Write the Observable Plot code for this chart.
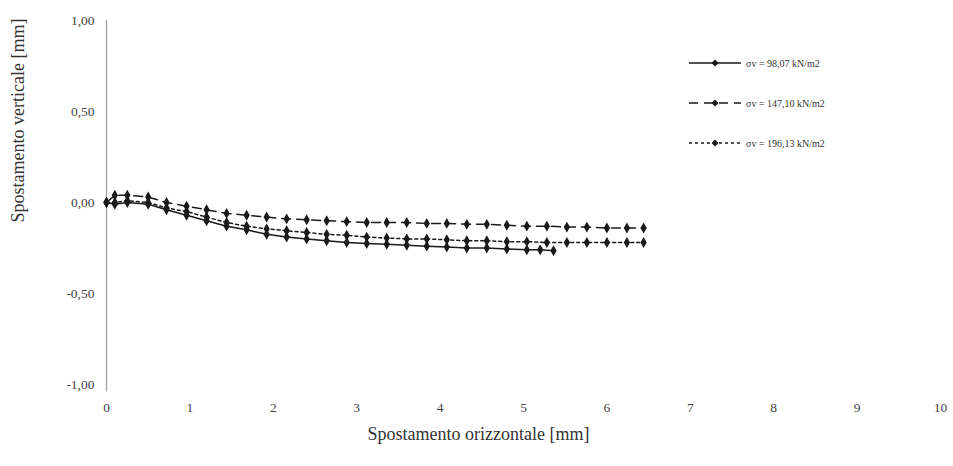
<!DOCTYPE html>
<html><head><meta charset="utf-8">
<script src="https://cdn.jsdelivr.net/npm/d3@7"></script>
<script src="https://cdn.jsdelivr.net/npm/@observablehq/plot@0.6"></script>
<style>
body{margin:0;background:#fff;}
#wrap{position:relative;width:953px;height:466px;font-family:"Liberation Serif",serif;}
#legend{position:absolute;left:688px;top:43px;font-size:10px;color:#333;}
.row{display:flex;align-items:center;height:40px;}
.row span{margin-left:4px;}
</style>
</head><body><div id="wrap"><div id="legend"></div></div>
<script>
const seriesNames = ["σv = 98,07 kN/m2", "σv = 147,10 kN/m2", "σv = 196,13 kN/m2"];
const dashes = ["none", "9,6", "3,3"];

const x1 = [0, 0.1, 0.25, 0.5, 0.72, 0.96, 1.2, 1.44, 1.68, 1.92, 2.16, 2.4, 2.64, 2.88, 3.12, 3.36, 3.6, 3.84, 4.08, 4.32, 4.56, 4.8, 5.04, 5.2, 5.36];
const y1 = [0, -0.01, 0, -0.01, -0.04, -0.07, -0.10, -0.13, -0.15, -0.175, -0.19, -0.20, -0.21, -0.22, -0.225, -0.23, -0.235, -0.24, -0.245, -0.25, -0.25, -0.255, -0.26, -0.26, -0.265];

const x2 = [0, 0.1, 0.25, 0.5, 0.72, 0.96, 1.2, 1.44, 1.68, 1.92, 2.16, 2.4, 2.64, 2.88, 3.12, 3.36, 3.6, 3.84, 4.08, 4.32, 4.56, 4.8, 5.04, 5.28, 5.52, 5.76, 6.0, 6.24, 6.44];
const y2 = [0, 0.04, 0.04, 0.03, 0.0, -0.02, -0.04, -0.06, -0.07, -0.08, -0.09, -0.095, -0.10, -0.105, -0.11, -0.11, -0.11, -0.115, -0.115, -0.12, -0.12, -0.125, -0.13, -0.13, -0.135, -0.135, -0.14, -0.14, -0.14];

const x3 = [0, 0.1, 0.25, 0.5, 0.72, 0.96, 1.2, 1.44, 1.68, 1.92, 2.16, 2.4, 2.64, 2.88, 3.12, 3.36, 3.6, 3.84, 4.08, 4.32, 4.56, 4.8, 5.04, 5.28, 5.52, 5.76, 6.0, 6.24, 6.44];
const y3 = [0, 0.0, 0.01, 0.0, -0.03, -0.05, -0.08, -0.11, -0.13, -0.145, -0.155, -0.165, -0.175, -0.18, -0.19, -0.195, -0.2, -0.2, -0.205, -0.21, -0.21, -0.215, -0.215, -0.22, -0.22, -0.22, -0.22, -0.22, -0.22];

const xTicks = [0, 1, 2, 3, 4, 5, 6, 7, 8, 9, 10];
const yTicks = [-1, -0.5, 0, 0.5, 1];
const xLabel = "Spostamento orizzontale [mm]";
const yLabel = "Spostamento verticale [mm]";

const allX = [x1, x2, x3];
const allY = [y1, y2, y3];
const series = allX.map((xs, i) => xs.map((x, j) => ({x, y: allY[i][j], s: seriesNames[i]})));

const marks = [
  Plot.ruleX([0], {y1: -1.04, y2: 1, stroke: "#a0a0a0", strokeWidth: 1.2}),
];
series.forEach((d, i) => {
  marks.push(Plot.line(d, {x: "x", y: "y", stroke: "#1a1a1a", strokeWidth: 1.5, strokeDasharray: dashes[i]}));
  marks.push(Plot.dot(d, {x: "x", y: "y", symbol: "diamond", r: 3.3, fill: "#1a1a1a", stroke: "none"}));
});
marks.push(Plot.text([xLabel], {frameAnchor: "bottom", dy: 55, dx: -45, fontSize: 18, fill: "#333"}));
marks.push(Plot.text([yLabel], {frameAnchor: "left", dx: -88, dy: 20, rotate: -90, fontSize: 18, fill: "#333"}));

const chart = Plot.plot({
  width: 953, height: 466,
  marginLeft: 106, marginRight: 13, marginTop: 20, marginBottom: 82,
  style: {fontFamily: "Liberation Serif, serif", fontSize: "13.5px", color: "#444", background: "white"},
  x: {domain: [0, 10], ticks: xTicks, tickSize: 0, tickPadding: 18, label: null, tickFormat: d => String(d)},
  y: {domain: [-1, 1], ticks: yTicks, tickSize: 0, tickPadding: 12, label: null, tickFormat: d => d.toFixed(2).replace(".", ",")},
  marks
});
document.getElementById("wrap").prepend(chart);

const legend = document.getElementById("legend");
seriesNames.forEach((name, i) => {
  const row = document.createElement("div");
  row.className = "row";
  row.innerHTML = `<svg width="54" height="10"><line x1="1" y1="5" x2="53" y2="5" stroke="#1a1a1a" stroke-width="1.4" stroke-dasharray="${dashes[i]}"/><path d="M27,1.5L30.5,5L27,8.5L23.5,5Z" fill="#1a1a1a"/></svg><span>${name}</span>`;
  legend.appendChild(row);
});
</script>
</body></html>
